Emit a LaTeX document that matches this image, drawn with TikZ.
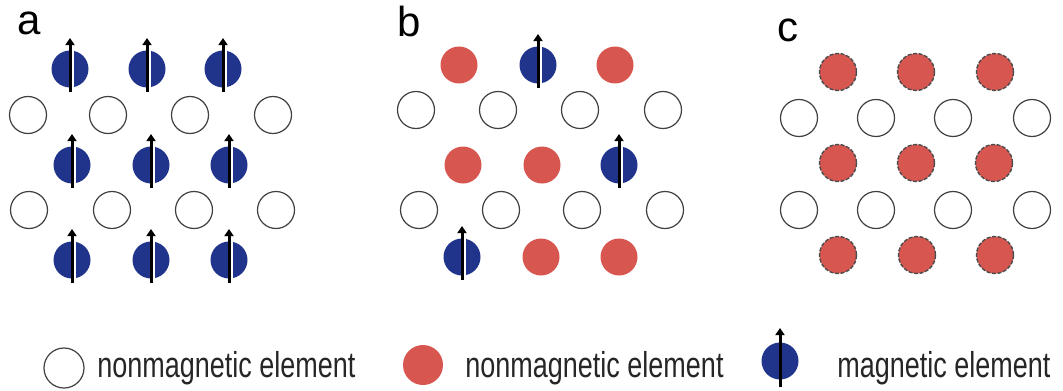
\documentclass[tikz,border=0pt]{standalone}
\usepackage{fontspec}
\setmainfont{Liberation Sans}
\newfontfamily\legfont{Liberation Sans}[FakeStretch=0.75]
\usetikzlibrary{arrows.meta,calc}
\definecolor{atomblue}{RGB}{32,52,140}
\definecolor{atomred}{RGB}{216,86,80}
\tikzset{
  atom/.style={circle,inner sep=0pt,minimum size=18.5pt},
  empty/.style={atom,draw=black!75,line width=0.6pt,fill=white},
  nonmag/.style={atom,fill=atomred},
  nonmagc/.style={atom,fill=atomred,draw=black!70,line width=0.7pt,dash pattern=on 2pt off 0.8pt},
  mag/.style={atom,fill=atomblue},
  spin/.style={line width=1.5pt,-{Triangle[width=4.6pt,length=3.6pt]}},
  spinhl/.style={white,line width=0.9pt},
  panellabel/.style={anchor=base west,inner sep=0pt,font=\fontsize{21}{21}\selectfont},
  legtext/.style={anchor=base west,inner sep=0pt,font=\legfont\fontsize{18}{18}\selectfont,text=black!85}
}
\newcommand\magat[3]{%
  \node[mag] (#1) at (#2,#3) {};
  \draw[spinhl] ($(#1)+(2.6,22)$) -- ($(#1)+(2.6,-22)$);
  \draw[spin] ($(#1)+(0,23)$) -- ($(#1)+(0,-31)$);}
\begin{document}
\begin{tikzpicture}[x=0.5pt,y=-0.5pt]
\useasboundingbox[fill=white] (0,0) rectangle (1063,390);
% ---------- panel a ----------
\node[panellabel] (la) at (17,35) {a};
\magat{a11}{70}{69}\magat{a12}{147}{69}\magat{a13}{223}{69}
\node[empty] (a21) at (28,115) {};\node[empty] (a22) at (108,115) {};
\node[empty] (a23) at (190,115) {};\node[empty] (a24) at (273,115) {};
\magat{a31}{72}{165}\magat{a32}{151}{165}\magat{a33}{229}{165}
\node[empty] (a41) at (29,210) {};\node[empty] (a42) at (112,210) {};
\node[empty] (a43) at (194,210) {};\node[empty] (a44) at (276,210) {};
\magat{a51}{72}{260}\magat{a52}{151}{260}\magat{a53}{229}{260}
% ---------- panel b ----------
\node[panellabel] (lb) at (397,37) {b};
\node[nonmag] (b11) at (459,65) {};\magat{b12}{538}{65}\node[nonmag] (b13) at (615,65) {};
\node[empty] (b21) at (416,110) {};\node[empty] (b22) at (498,110) {};
\node[empty] (b23) at (580,110) {};\node[empty] (b24) at (663,110) {};
\node[nonmag] (b31) at (463,165) {};\node[nonmag] (b32) at (542,165) {};\magat{b33}{619}{165}
\node[empty] (b41) at (419,210) {};\node[empty] (b42) at (501,210) {};
\node[empty] (b43) at (582,210) {};\node[empty] (b44) at (665,210) {};
\magat{b51}{462}{257}\node[nonmag] (b52) at (541,257) {};\node[nonmag] (b53) at (619,257) {};
% ---------- panel c ----------
\node[panellabel] (lc) at (777,42) {c};
\node[nonmagc] (c11) at (838,72) {};\node[nonmagc] (c12) at (916,72) {};\node[nonmagc] (c13) at (995,72) {};
\node[empty] (c21) at (799,118) {};\node[empty] (c22) at (876,118) {};
\node[empty] (c23) at (953,118) {};\node[empty] (c24) at (1032,118) {};
\node[nonmagc] (c31) at (838,163) {};\node[nonmagc] (c32) at (916,163) {};\node[nonmagc] (c33) at (994,163) {};
\node[empty] (c41) at (799,210) {};\node[empty] (c42) at (876,210) {};
\node[empty] (c43) at (953,210) {};\node[empty] (c44) at (1032,210) {};
\node[nonmagc] (c51) at (838,255) {};\node[nonmagc] (c52) at (917,255) {};\node[nonmagc] (c53) at (995,255) {};
% ---------- legend ----------
\node[empty,minimum size=20pt] (k1) at (64,368) {};
\node[legtext] (t1) at (97,377) {nonmagnetic element};
\node[nonmag,minimum size=20pt] (k2) at (423,365) {};
\node[legtext] (t2) at (465,377) {nonmagnetic element};
\node[mag] (k3) at (780,361) {};
\draw[spin] ($(k3)+(0,26)$) -- ($(k3)+(0,-33)$);
\node[legtext] (t3) at (837,377) {magnetic element};
\end{tikzpicture}
\end{document}
